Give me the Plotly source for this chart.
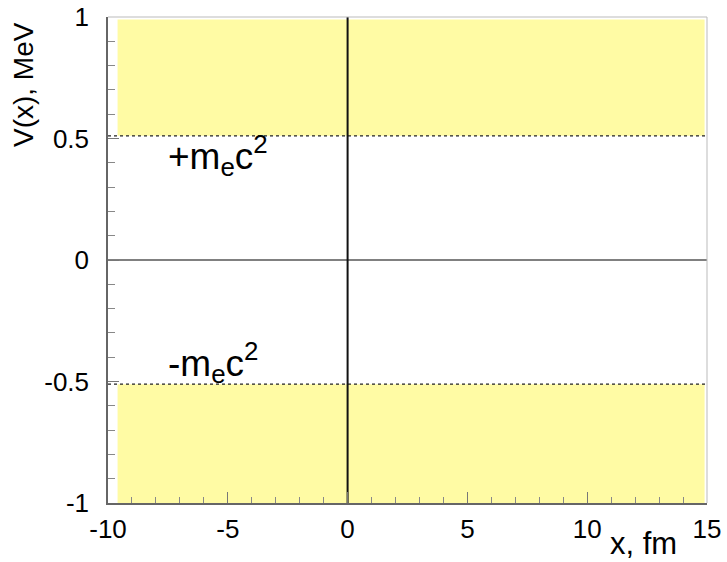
import plotly.graph_objects as go

# Potential V(x) for the Dirac sea picture: forbidden gap between -m_e c^2 and +m_e c^2
mec2 = 0.511                      # electron rest energy, MeV
band_x = [-9.6, 14.9]             # horizontal extent of the continua
upper_band_y = [mec2, 0.99]       # positive-energy continuum
lower_band_y = [-1.0, -mec2]      # negative-energy continuum
x_range = [-10, 15]
y_range = [-1, 1]

x_tickvals = [-10, -5, 0, 5, 10, 15]
x_ticktext = ["-10", "-5", "0", "5", "10", "15"]
y_tickvals = [-1, -0.5, 0, 0.5, 1]
y_ticktext = ["-1", "-0.5", "0", "0.5", "1"]

label_pos_x = -7.6
label_pos_y = [0.43, -0.42]
label_text = ["+m<sub>e</sub>c<sup>2</sup>", "-m<sub>e</sub>c<sup>2</sup>"]

YELLOW = "#fffba4"
FONT = "Liberation Sans, Arial, sans-serif"

fig = go.Figure()


def band(xs, ys):
    return go.Scatter(
        x=[xs[0], xs[1], xs[1], xs[0], xs[0]],
        y=[ys[0], ys[0], ys[1], ys[1], ys[0]],
        mode="none", fill="toself", fillcolor=YELLOW,
        hoverinfo="skip", showlegend=False,
    )


fig.add_trace(band(band_x, upper_band_y))
fig.add_trace(band(band_x, lower_band_y))

# zero line of the potential
fig.add_trace(go.Scatter(x=x_range, y=[0, 0], mode="lines",
                         line=dict(color="#808080", width=2),
                         hoverinfo="skip", showlegend=False))

# continuum edges
for yv in (mec2, -mec2):
    fig.add_trace(go.Scatter(x=x_range, y=[yv, yv], mode="lines",
                             line=dict(color="#222222", width=1.2, dash="3px,3px"),
                             hoverinfo="skip", showlegend=False))

# x = 0 marker
fig.add_trace(go.Scatter(x=[0, 0], y=y_range, mode="lines",
                         line=dict(color="#111111", width=2),
                         hoverinfo="skip", showlegend=False))

for yv, txt in zip(label_pos_y, label_text):
    fig.add_annotation(x=label_pos_x, y=yv, xref="x", yref="y", text=txt,
                       showarrow=False, xanchor="left", yanchor="middle",
                       font=dict(family=FONT, size=37, color="black"))

fig.add_annotation(x=-0.142, y=0.862, xref="paper", yref="paper",
                   text="V(x), MeV", textangle=-90, showarrow=False,
                   xanchor="center", yanchor="middle",
                   font=dict(family=FONT, size=28, color="black"))
fig.add_annotation(x=0.953, y=-0.084, xref="paper", yref="paper",
                   text="x, fm", showarrow=False,
                   xanchor="right", yanchor="middle",
                   font=dict(family=FONT, size=31, color="black"))

# light frame on top and right
fig.add_shape(type="line", xref="paper", yref="paper", x0=0, x1=1, y0=1, y1=1,
              line=dict(color="#bbbbbb", width=1))
fig.add_shape(type="line", xref="paper", yref="paper", x0=1, x1=1, y0=0, y1=1,
              line=dict(color="#bbbbbb", width=1))

axis_common = dict(
    showgrid=False, zeroline=False, showline=True, automargin=False,
    linecolor="#666666", linewidth=1.5,
    ticks="inside", ticklen=11, tickcolor="#777777", tickwidth=1,
    tickfont=dict(family=FONT, size=26, color="black"),
)

fig.update_xaxes(range=x_range, tickvals=x_tickvals, ticktext=x_ticktext,
                 minor=dict(ticks="inside", ticklen=6, dtick=1, tickcolor="#888888"),
                 ticklabelstandoff=2, **axis_common)
fig.update_yaxes(range=y_range, tickvals=y_tickvals, ticktext=y_ticktext,
                 minor=dict(ticks="inside", ticklen=7, dtick=0.1, tickcolor="#888888"),
                 ticklabelstandoff=12, **axis_common)

fig.update_layout(
    width=727, height=562,
    margin=dict(l=108, r=20, t=17, b=59, autoexpand=False),
    paper_bgcolor="white", plot_bgcolor="white",
    showlegend=False,
)

fig.write_html("out.html")
